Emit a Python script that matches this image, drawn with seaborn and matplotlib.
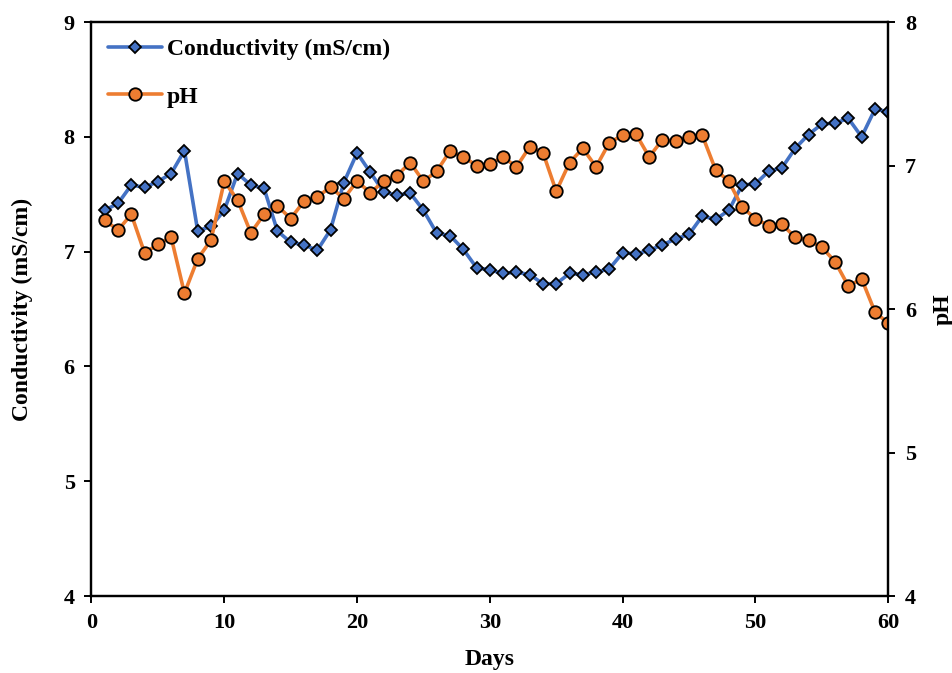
import matplotlib
matplotlib.use("Agg")
import matplotlib.pyplot as plt
import seaborn as sns
import pandas as pd
from matplotlib.lines import Line2D

days = list(range(1, 61))

conductivity = [
    7.36, 7.42, 7.58, 7.56, 7.61, 7.68, 7.88, 7.18, 7.22, 7.36,
    7.68, 7.58, 7.55, 7.18, 7.08, 7.06, 7.01, 7.19, 7.60, 7.86,
    7.69, 7.52, 7.49, 7.51, 7.36, 7.16, 7.14, 7.02, 6.86, 6.84,
    6.81, 6.82, 6.80, 6.72, 6.72, 6.81, 6.80, 6.82, 6.85, 6.99,
    6.98, 7.01, 7.06, 7.11, 7.15, 7.31, 7.28, 7.36, 7.58, 7.59,
    7.70, 7.73, 7.90, 8.02, 8.11, 8.12, 8.16, 8.00, 8.24, 8.22,
]

ph = [
    6.62, 6.55, 6.66, 6.39, 6.45, 6.50, 6.11, 6.35, 6.48, 6.89,
    6.76, 6.53, 6.66, 6.72, 6.63, 6.75, 6.78, 6.85, 6.77, 6.89,
    6.81, 6.89, 6.93, 7.02, 6.89, 6.96, 7.10, 7.06, 7.00, 7.01,
    7.06, 6.99, 7.13, 7.09, 6.82, 7.02, 7.12, 6.99, 7.16, 7.21,
    7.22, 7.06, 7.18, 7.17, 7.20, 7.21, 6.97, 6.89, 6.71, 6.63,
    6.58, 6.59, 6.50, 6.48, 6.43, 6.33, 6.16, 6.21, 5.98, 5.90,
]

x_ticks = [0, 10, 20, 30, 40, 50, 60]
left_ticks = [4, 5, 6, 7, 8, 9]
right_ticks = [4, 5, 6, 7, 8]

df = pd.DataFrame({"Days": days, "Conductivity": conductivity, "pH": ph})

sns.set_style("ticks")
plt.rcParams["font.family"] = ["Liberation Serif", "DejaVu Serif"]
plt.rcParams["font.weight"] = "bold"
plt.rcParams["text.color"] = "black"
plt.rcParams["axes.labelcolor"] = "black"

BLUE = "#4472C4"
ORANGE = "#ED7D31"

fig = plt.figure(figsize=(9.53, 6.73), dpi=100)
ax = fig.add_axes([0.096, 0.1144, 0.836, 0.8529])
ax2 = ax.twinx()

sns.lineplot(data=df, x="Days", y="Conductivity", ax=ax, color=BLUE,
             linewidth=2.6, marker="D", markersize=6.5,
             markeredgecolor="black", markeredgewidth=1.3, legend=False)
sns.lineplot(data=df, x="Days", y="pH", ax=ax2, color=ORANGE,
             linewidth=2.6, marker="o", markersize=9,
             markeredgecolor="black", markeredgewidth=1.3, legend=False)

ax.set_xlim(0, 60)
ax.set_ylim(4, 9)
ax2.set_ylim(4, 8)
ax.set_xticks(x_ticks)
ax.set_yticks(left_ticks)
ax2.set_yticks(right_ticks)

for a in (ax, ax2):
    for s in a.spines.values():
        s.set_linewidth(1.6)
        s.set_color("black")
    a.tick_params(direction="out", length=5, width=1.4, labelsize=16,
                  colors="black", pad=7)
    for lab in a.get_xticklabels() + a.get_yticklabels():
        lab.set_fontweight("bold")

ax.set_xlabel("Days", fontsize=17, fontweight="bold", labelpad=12)
ax.set_ylabel("Conductivity (mS/cm)", fontsize=17, fontweight="bold", labelpad=22)
ax2.set_ylabel("pH", fontsize=17, fontweight="bold", labelpad=12)

handles = [
    Line2D([], [], color=BLUE, lw=2.6, marker="D", markersize=6.5,
           markeredgecolor="black", markeredgewidth=1.3),
    Line2D([], [], color=ORANGE, lw=2.6, marker="o", markersize=9,
           markeredgecolor="black", markeredgewidth=1.3),
]
ax2.legend(handles, ["Conductivity (mS/cm)", "pH"], loc="upper left",
           frameon=False, prop={"size": 17, "weight": "bold"},
           handlelength=2.3, handletextpad=0.2, labelspacing=1.1,
           borderaxespad=0.3, bbox_to_anchor=(0.0, 1.0))

fig.savefig("out.png", dpi=100)
